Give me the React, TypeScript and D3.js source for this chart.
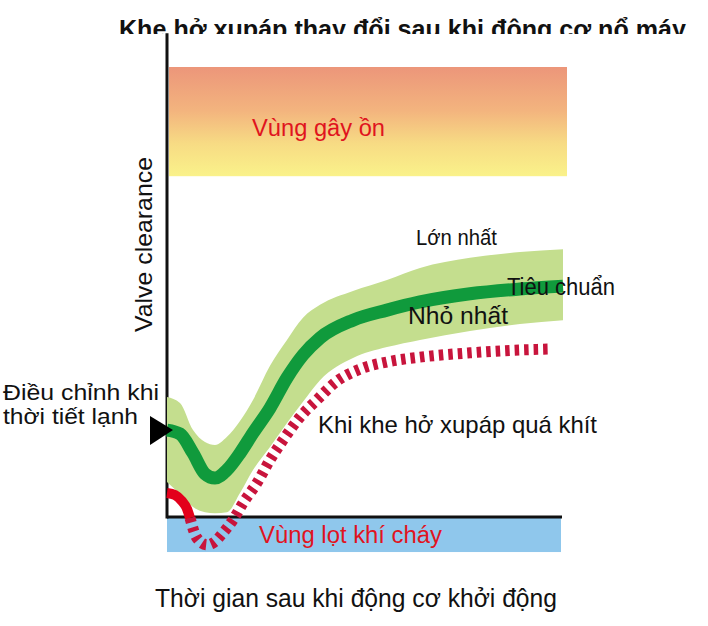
import React from 'react';
import * as d3 from 'd3';

// time after start (0..100) and clearance values
const bandTimes = [0, 3.25, 6.5, 9.5, 12, 15, 18.25, 21.5, 25.75, 30, 34, 38.25, 46.5, 55, 63.25, 75.75, 88.25, 99];
const maxValues = [25, 23.75, 18.1, 15.6, 15, 16.7, 20, 24.4, 31.5, 36.9, 41.5, 44.2, 47.1, 49.4, 51.9, 54, 55.2, 55.8];
const standardValues = [18.1, 17.3, 13.3, 9, 8.1, 9.8, 13.3, 17.5, 22.7, 29, 33.75, 37.3, 41, 43.1, 44.8, 46.5, 47.5, 48.1];
const minValues = [7.3, 4.8, 2.1, 1, 0.8, 1, 5, 9.8, 14.6, 19.6, 24, 28.5, 33.1, 35.4, 36.9, 38.75, 40.2, 41];

const tightSolidTimes = [0, 2, 3.75, 5, 5.75];
const tightSolidValues = [5, 4.6, 3.3, 1.7, -0.2];
const tightTimes = [5.75, 7.5, 10, 11.5, 14, 16.5, 19, 22.5, 25.75, 29, 33.25, 37.5, 42.5, 48.25, 55, 63.25, 75.75, 88.25, 96.25];
const tightValues = [-0.2, -4.4, -5.8, -5.4, -3.3, -0.6, 2.9, 7.1, 11.9, 16, 20.8, 24.4, 28.3, 30.8, 32.3, 33.3, 34.2, 34.8, 35];

const noiseZone = { t0: 0.5, t1: 100, v0: 71, v1: 93.75 };
const leakZone = { t0: 0, t1: 98.5, v0: -7.3, v1: -0.2 };
const axisTop = 100.8;
const axisRight = 98.75;

const title = 'Khe hở xupáp thay đổi sau khi động cơ nổ máy';
const yLabel = 'Valve clearance';
const xLabel = 'Thời gian sau khi động cơ khởi động';
const noiseLabel = 'Vùng gây ồn';
const leakLabel = 'Vùng lọt khí cháy';
const coldLabel = ['Điều chỉnh khi', 'thời tiết lạnh'];

const font = '"Liberation Sans", Arial, sans-serif';

const App: React.FC = () => {
  const width = 708;
  const height = 626;

  const x = d3.scaleLinear().domain([0, 100]).range([167, 567]);
  const y = d3.scaleLinear().domain([0, 100]).range([517, 37]);

  const band = d3.area<number>()
    .x((_, i) => x(bandTimes[i]))
    .y0((_, i) => y(minValues[i]))
    .y1((_, i) => y(maxValues[i]))
    .curve(d3.curveMonotoneX);

  const line = d3.line<[number, number]>()
    .x(d => x(d[0]))
    .y(d => y(d[1]))
    .curve(d3.curveMonotoneX);

  const standardPts = bandTimes.map((t, i) => [t, standardValues[i]] as [number, number]);
  const solidPts = tightSolidTimes.map((t, i) => [t, tightSolidValues[i]] as [number, number]);
  const tightPts = tightTimes.map((t, i) => [t, tightValues[i]] as [number, number]);

  const arrowY = y(standardValues[0]);

  return (
    <svg width={width} height={height} style={{ position: 'fixed', left: 0, top: 0, background: '#fff' }}
      fontFamily={font}>
      <defs>
        <linearGradient id="noise" x1="0" y1="0" x2="0" y2="1">
          <stop offset="0%" stopColor="#ec967a" />
          <stop offset="40%" stopColor="#f3b47e" />
          <stop offset="70%" stopColor="#f7db84" />
          <stop offset="100%" stopColor="#faf28a" />
        </linearGradient>
        <clipPath id="titleClip">
          <rect x={0} y={0} width={width} height={34} />
        </clipPath>
      </defs>

      <text x={119} y={38} fontSize={25} fontWeight="bold" fill="#111" textLength={567}
        lengthAdjust="spacingAndGlyphs" clipPath="url(#titleClip)">{title}</text>

      {/* zones */}
      <rect x={x(noiseZone.t0)} y={y(noiseZone.v1)} width={x(noiseZone.t1) - x(noiseZone.t0)}
        height={y(noiseZone.v0) - y(noiseZone.v1)} fill="url(#noise)" />
      <rect x={x(leakZone.t0)} y={y(leakZone.v1)} width={x(leakZone.t1) - x(leakZone.t0)}
        height={y(leakZone.v0) - y(leakZone.v1)} fill="#8fc7ec" />

      {/* axes */}
      <line x1={x(0)} x2={x(0)} y1={y(axisTop)} y2={y(0) + 1.5} stroke="#111" strokeWidth={3} />
      <line x1={x(0)} x2={x(axisRight)} y1={y(0)} y2={y(0)} stroke="#111" strokeWidth={3} />

      {/* clearance band */}
      <path d={band(bandTimes) ?? ''} fill="#c4de8e" />
      <path d={line(standardPts) ?? ''} fill="none" stroke="#109a3c" strokeWidth={13} />

      {/* too tight */}
      <path d={line(tightPts) ?? ''} fill="none" stroke="#c8143c" strokeWidth={11} strokeDasharray="4.5 5" />
      <path d={line(solidPts) ?? ''} fill="none" stroke="#e3001b" strokeWidth={10} />

      {/* cold weather arrow */}
      <path d={`M${x(0) - 17},${arrowY - 14} L${x(0) + 6},${arrowY} L${x(0) - 17},${arrowY + 15} Z`} fill="#000" />

      {/* labels */}
      <text transform={`translate(152,244.5) rotate(-90)`} textAnchor="middle" fontSize={24} fill="#111"
        textLength={175} lengthAdjust="spacingAndGlyphs">{yLabel}</text>
      <text x={252} y={136} fontSize={23} fill="#e0141e" textLength={133} lengthAdjust="spacingAndGlyphs">{noiseLabel}</text>
      <text x={416} y={245} fontSize={22} fill="#111" textLength={81} lengthAdjust="spacingAndGlyphs">Lớn nhất</text>
      <text x={507} y={295} fontSize={23} fill="#111" textLength={108} lengthAdjust="spacingAndGlyphs">Tiêu chuẩn</text>
      <text x={408} y={324} fontSize={23} fill="#111" textLength={100} lengthAdjust="spacingAndGlyphs">Nhỏ nhất</text>
      <text x={318} y={433} fontSize={24} fill="#111" textLength={279} lengthAdjust="spacingAndGlyphs">Khi khe hở xupáp quá khít</text>
      <text x={3} y={400} fontSize={22} fill="#111" textLength={156} lengthAdjust="spacingAndGlyphs">{coldLabel[0]}</text>
      <text x={3} y={424} fontSize={22} fill="#111" textLength={135} lengthAdjust="spacingAndGlyphs">{coldLabel[1]}</text>
      <text x={259} y={543} fontSize={23} fill="#e0141e" textLength={183} lengthAdjust="spacingAndGlyphs">{leakLabel}</text>
      <text x={155} y={607} fontSize={25} fill="#111" textLength={402} lengthAdjust="spacingAndGlyphs">{xLabel}</text>
    </svg>
  );
};

export default App;
